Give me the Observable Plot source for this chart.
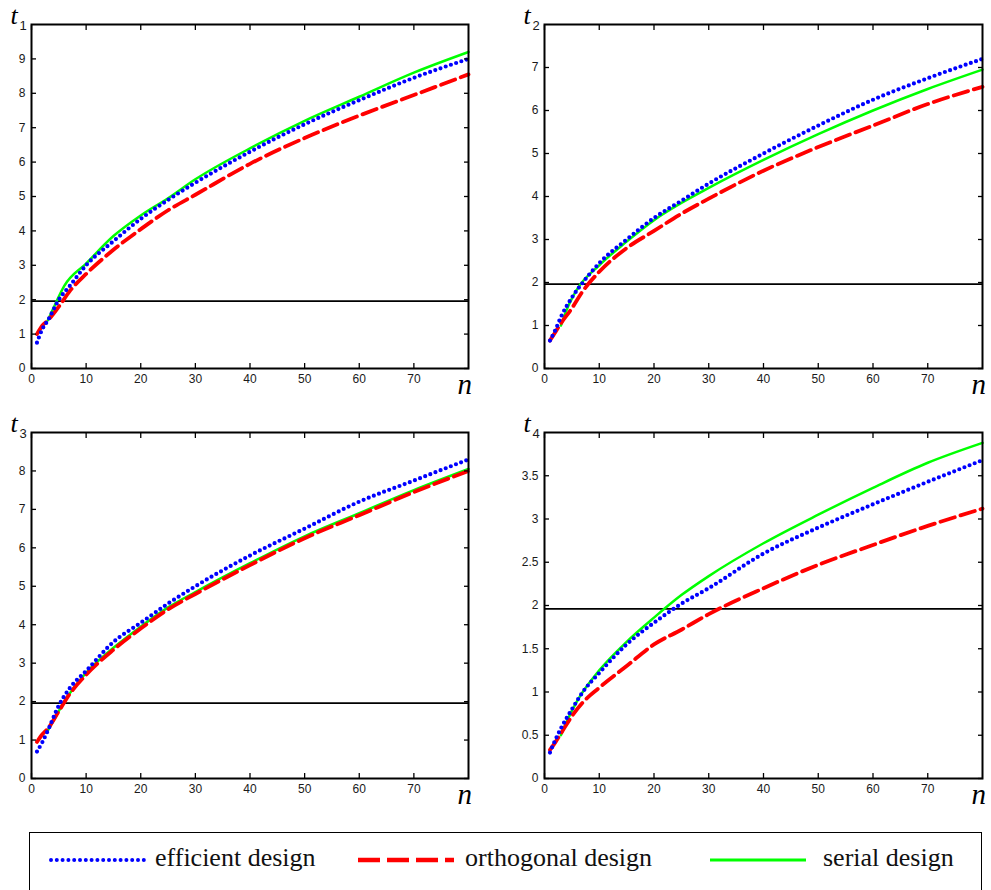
<!DOCTYPE html>
<html><head><meta charset="utf-8">
<script src="https://cdn.jsdelivr.net/npm/d3@7"></script>
<script src="https://cdn.jsdelivr.net/npm/@observablehq/plot@0.6"></script>
<style>
body{margin:0;background:#fff;}
#wrap{position:relative;width:991px;height:890px;overflow:hidden;}
.panel{position:absolute;}
#legend{position:absolute;left:29px;top:832px;width:953px;height:60px;border:1.5px solid #000;box-sizing:border-box;background:#fff;}
.lt{position:absolute;top:10px;font-family:"Liberation Serif","Times New Roman",serif;font-size:26px;color:#111;white-space:nowrap;}
.sw{position:absolute;top:22px;}
</style></head><body>
<div id="wrap"></div>
<script>
// ---- data ----
const seriesNames = ["efficient design", "orthogonal design", "serial design"];
const nEff = [1, 2, 3, 5, 7, 10, 15, 20, 25, 30, 40, 50, 60, 70, 80];   // efficient & orthogonal
const nSer = [3, 4, 6, 10, 15, 20, 25, 30, 40, 50, 60, 70, 80];          // serial
const xTicks = [0, 10, 20, 30, 40, 50, 60, 70];
const critical = 1.96;

// panel t1
const t1Eff = [0.75, 1.15, 1.4, 2.0, 2.4, 3.0, 3.7, 4.35, 4.9, 5.4, 6.3, 7.1, 7.8, 8.45, 9.0];
const t1Ort = [1.0, 1.25, 1.4, 1.8, 2.25, 2.75, 3.45, 4.05, 4.6, 5.05, 5.95, 6.7, 7.35, 7.95, 8.55];
const t1Ser = [1.4, 1.75, 2.4, 3.05, 3.85, 4.45, 4.95, 5.5, 6.4, 7.2, 7.9, 8.6, 9.2];
const t1Ticks = [0, 1, 2, 3, 4, 5, 6, 7, 8, 9];
// panel t2
const t2Eff = [0.65, 0.9, 1.2, 1.65, 2.0, 2.45, 3.0, 3.5, 3.9, 4.3, 5.0, 5.65, 6.25, 6.75, 7.2];
const t2Ort = [0.65, 0.85, 1.05, 1.4, 1.8, 2.25, 2.8, 3.2, 3.6, 3.95, 4.6, 5.15, 5.65, 6.15, 6.55];
const t2Ser = [1.0, 1.35, 1.85, 2.4, 2.95, 3.45, 3.85, 4.2, 4.85, 5.45, 6.0, 6.5, 6.95];
const t2Ticks = [0, 1, 2, 3, 4, 5, 6, 7];
// panel t3
const t3Eff = [0.7, 0.95, 1.25, 1.9, 2.35, 2.8, 3.55, 4.05, 4.55, 5.0, 5.8, 6.5, 7.2, 7.75, 8.3];
const t3Ort = [0.95, 1.15, 1.3, 1.75, 2.2, 2.7, 3.35, 3.9, 4.4, 4.8, 5.55, 6.25, 6.85, 7.45, 8.0];
const t3Ser = [1.25, 1.5, 2.0, 2.75, 3.4, 3.95, 4.45, 4.85, 5.6, 6.3, 6.9, 7.5, 8.05];
const t3Ticks = [0, 1, 2, 3, 4, 5, 6, 7, 8];
// panel t4
const t4Eff = [0.3, 0.45, 0.58, 0.8, 1.0, 1.22, 1.55, 1.8, 2.02, 2.2, 2.6, 2.9, 3.17, 3.43, 3.68];
const t4Ort = [0.33, 0.42, 0.52, 0.72, 0.88, 1.05, 1.3, 1.55, 1.72, 1.9, 2.2, 2.47, 2.7, 2.92, 3.12];
const t4Ser = [0.5, 0.65, 0.9, 1.25, 1.58, 1.86, 2.12, 2.34, 2.72, 3.05, 3.36, 3.65, 3.88];
const t4Ticks = [0, 0.5, 1, 1.5, 2, 2.5, 3, 3.5];

const colors = {eff: "#0000ff", ort: "#ff0000", ser: "#00ff00"};

function rows(ns, vs) { return ns.map((n, i) => ({n, v: vs[i]})); }

function panel({sub, eff, ort, ser, yDomain, yTicks, left, top, width, height, ml, mr, mt, mb}) {
  const fmt = d => String(d);
  const chart = Plot.plot({
    width, height,
    marginLeft: ml, marginRight: mr, marginTop: mt, marginBottom: mb,
    x: {domain: [0, 80]},
    y: {domain: yDomain},
    style: {fontFamily: "'Liberation Sans', Arial, sans-serif", background: "white", overflow: "visible"},
    marks: [
      Plot.ruleY([critical], {stroke: "#000", strokeWidth: 1.8}),
      Plot.line(rows(nSer, ser), {x: "n", y: "v", stroke: colors.ser, strokeWidth: 2.5, curve: "monotone-x"}),
      Plot.line(rows(nEff, ort), {x: "n", y: "v", stroke: colors.ort, strokeWidth: 3.8, strokeDasharray: "15 6", curve: "monotone-x"}),
      Plot.line(rows(nEff, eff), {x: "n", y: "v", stroke: colors.eff, strokeWidth: 4.2, strokeDasharray: "0 5.5", strokeLinecap: "round", curve: "monotone-x"}),
      Plot.frame({stroke: "#000", strokeWidth: 2}),
      Plot.axisX(xTicks, {anchor: "bottom", tickSize: -5, strokeWidth: 1.3, tickPadding: 11, fontSize: 12, fill: "#1a1a1a", label: null, tickFormat: fmt}),
      Plot.axisX(xTicks, {anchor: "top", tickSize: -5, strokeWidth: 1.3, tickFormat: () => "", label: null}),
      Plot.axisY(yTicks, {anchor: "left", tickSize: -5, strokeWidth: 1.3, tickPadding: 11, fontSize: 12, fill: "#1a1a1a", label: null, tickFormat: fmt}),
      Plot.axisY(yTicks, {anchor: "right", tickSize: -5, strokeWidth: 1.3, tickFormat: () => "", label: null}),
      Plot.text(["t"], {text: d => d, frameAnchor: "top-left", dx: -21, dy: -9, textAnchor: "start", lineAnchor: "middle", fontFamily: "'Liberation Serif', serif", fontStyle: "italic", fontSize: 26, fill: "#000"}),
      Plot.text([sub], {text: d => d, frameAnchor: "top-left", dx: -12, dy: 1, textAnchor: "start", lineAnchor: "middle", fontSize: 13, fill: "#1a1a1a"}),
      Plot.text(["n"], {text: d => d, frameAnchor: "bottom-right", dx: -11, dy: 16, textAnchor: "start", lineAnchor: "middle", fontFamily: "'Liberation Serif', serif", fontStyle: "italic", fontSize: 29, fill: "#000"})
    ]
  });
  chart.classList.add("panel");
  chart.style.left = left + "px";
  chart.style.top = top + "px";
  document.getElementById("wrap").appendChild(chart);
}

panel({sub: "1", eff: t1Eff, ort: t1Ort, ser: t1Ser, yDomain: [0, 10], yTicks: t1Ticks, left: 0, top: 0, width: 495, height: 400, ml: 31, mr: 27, mt: 24, mb: 32});
panel({sub: "2", eff: t2Eff, ort: t2Ort, ser: t2Ser, yDomain: [0, 8], yTicks: t2Ticks, left: 495, top: 0, width: 496, height: 400, ml: 49, mr: 9, mt: 24, mb: 32});
panel({sub: "3", eff: t3Eff, ort: t3Ort, ser: t3Ser, yDomain: [0, 9], yTicks: t3Ticks, left: 0, top: 400, width: 495, height: 420, ml: 31, mr: 27, mt: 32, mb: 42});
panel({sub: "4", eff: t4Eff, ort: t4Ort, ser: t4Ser, yDomain: [0, 4], yTicks: t4Ticks, left: 495, top: 400, width: 496, height: 420, ml: 49, mr: 9, mt: 32, mb: 42});

// ---- legend ----
const legend = document.createElement("div");
legend.id = "legend";
const items = [
  {name: seriesNames[0], color: colors.eff, sx: 21, sw: 94, tx: 125, w: 4, dash: "0 5.8", cap: "round"},
  {name: seriesNames[1], color: colors.ort, sx: 328, sw: 96, tx: 435, w: 4.5, dash: "22 7", cap: "butt"},
  {name: seriesNames[2], color: colors.ser, sx: 680, sw: 96, tx: 793, w: 3, dash: null, cap: "butt"}
];
items.forEach(it => {
  const svg = d3.create("svg").attr("class", "sw").attr("width", it.sw + 4).attr("height", 10)
    .style("left", (it.sx - 2) + "px");
  svg.append("line").attr("x1", 2).attr("x2", it.sw + 2).attr("y1", 5).attr("y2", 5)
    .attr("stroke", it.color).attr("stroke-width", it.w).attr("stroke-linecap", it.cap)
    .attr("stroke-dasharray", it.dash);
  legend.appendChild(svg.node());
  const t = document.createElement("div");
  t.className = "lt";
  t.style.left = it.tx + "px";
  t.textContent = it.name;
  legend.appendChild(t);
});
document.getElementById("wrap").appendChild(legend);
</script>
</body></html>
